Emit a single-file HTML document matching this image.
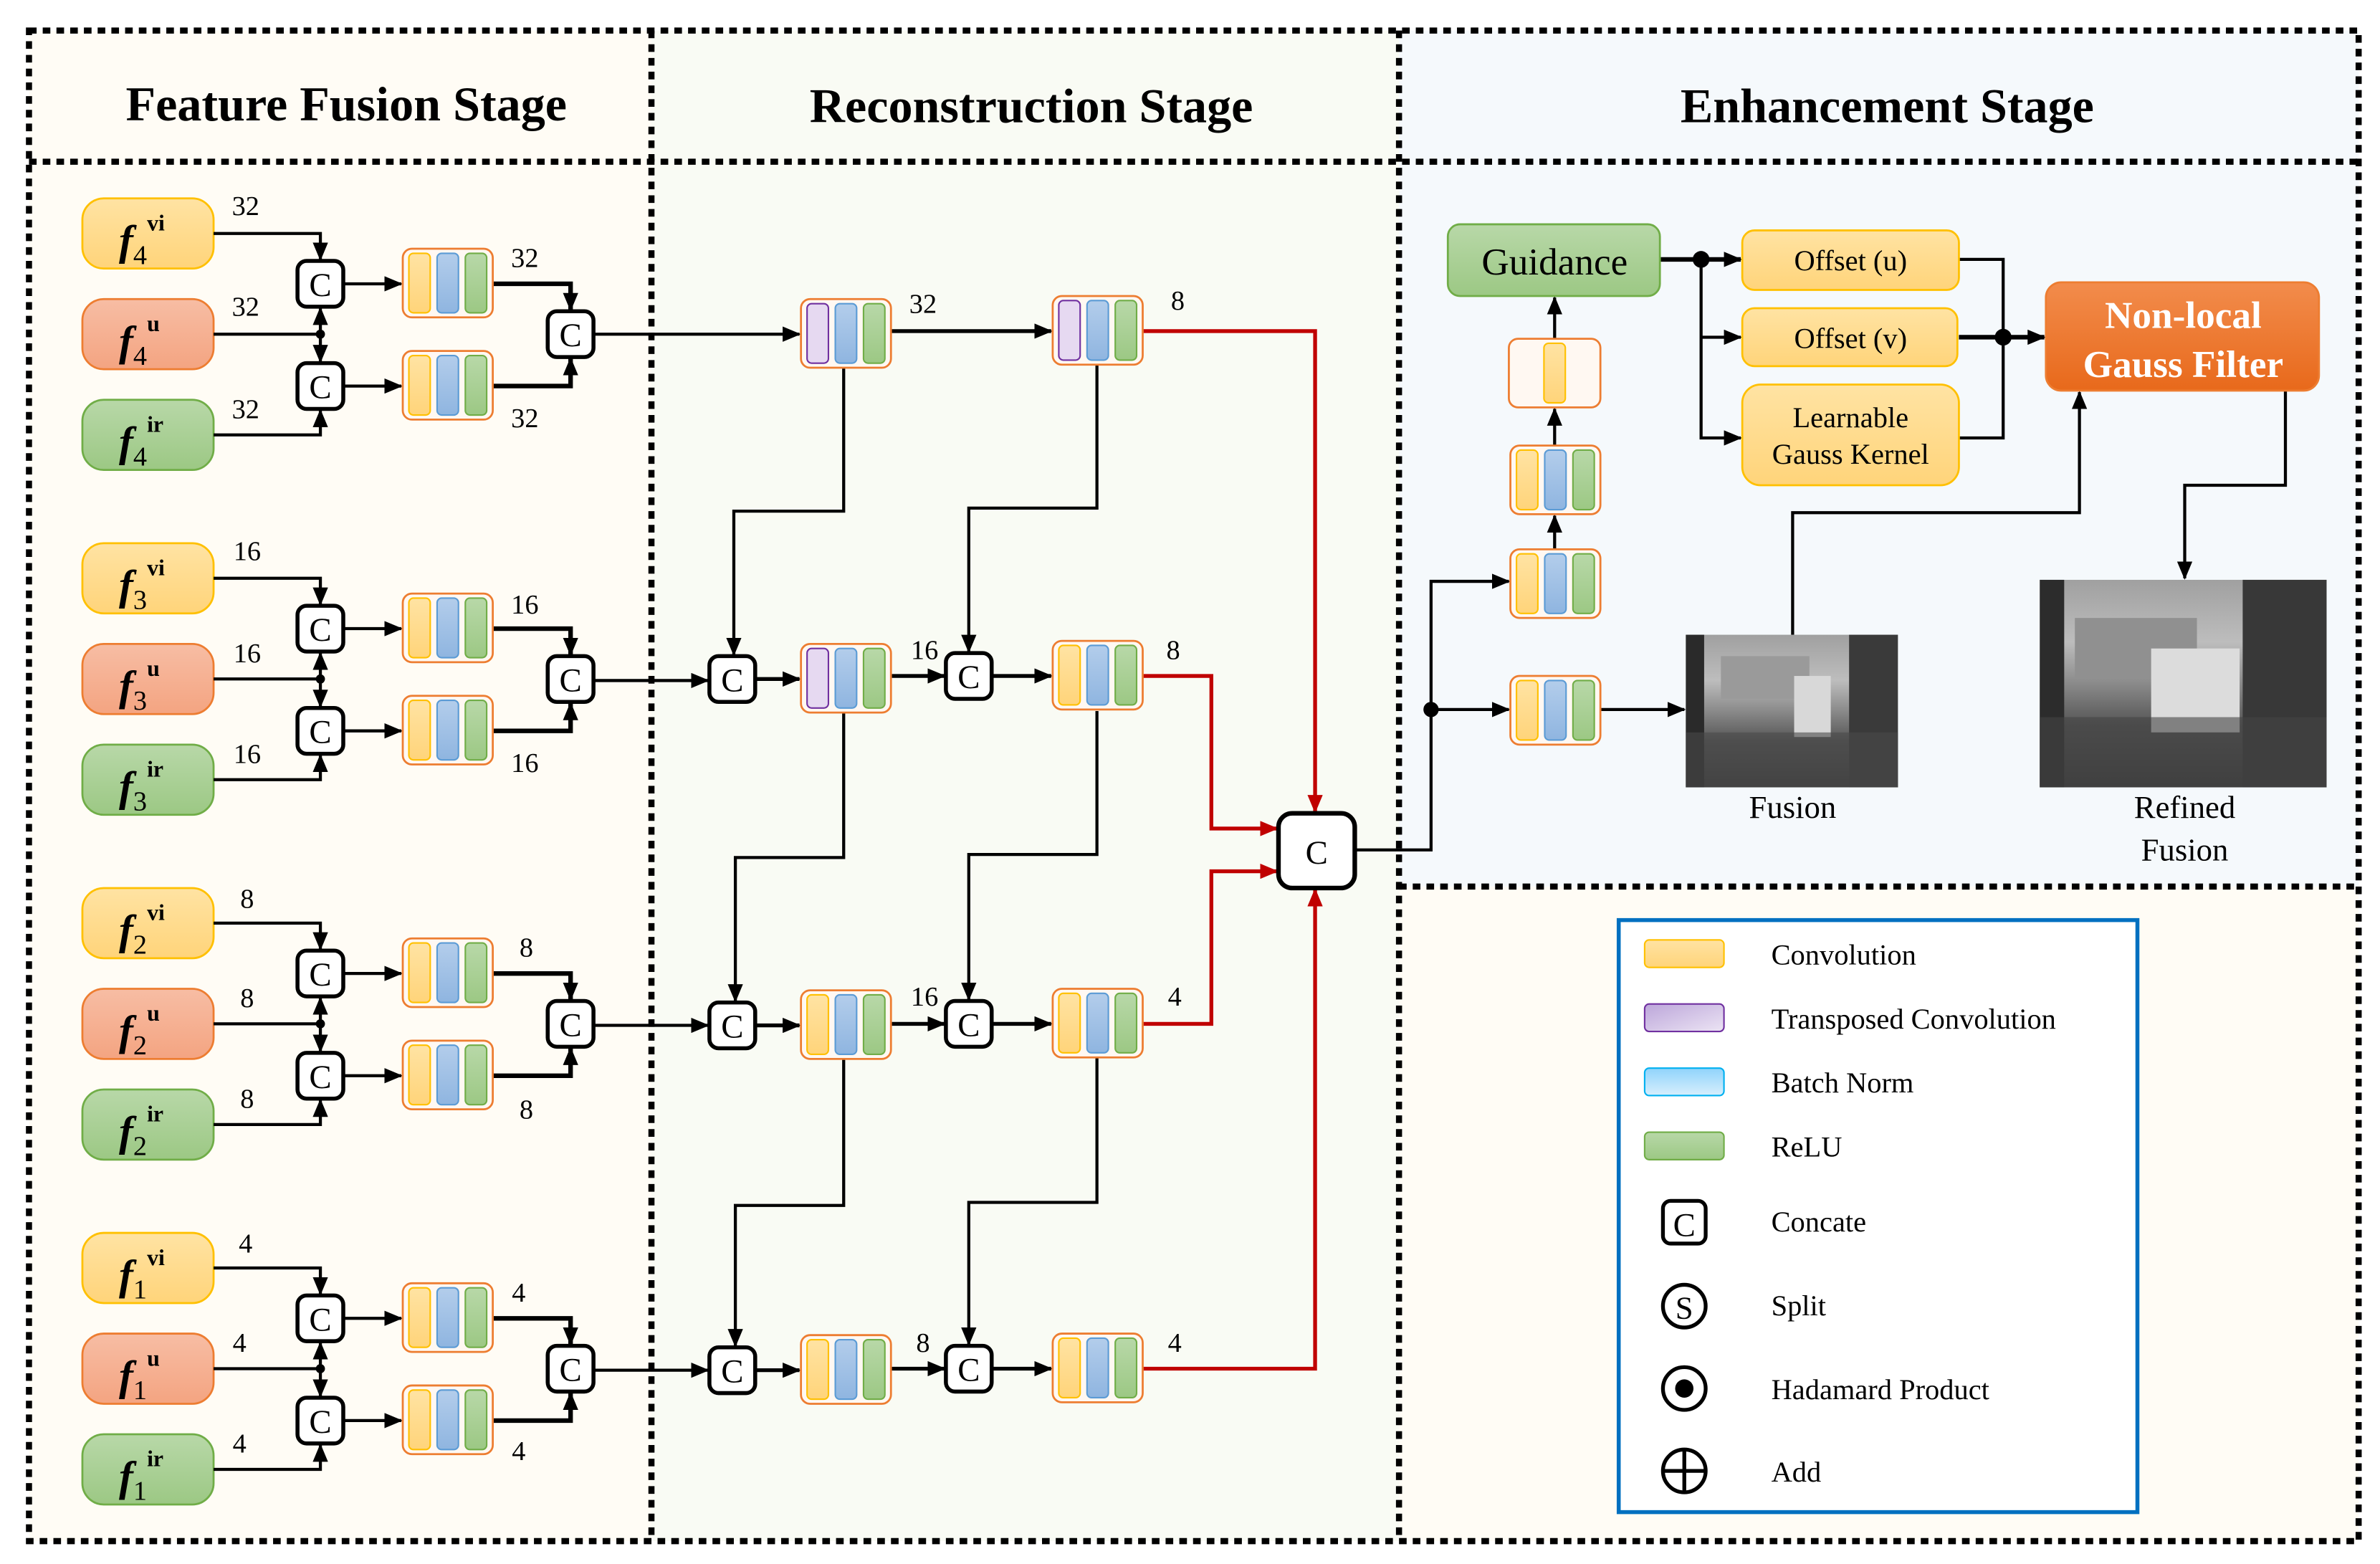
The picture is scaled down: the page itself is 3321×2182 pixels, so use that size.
<!DOCTYPE html>
<html><head><meta charset="utf-8"><style>
html,body{margin:0;padding:0;background:#fff}
svg{display:block}
svg, svg text{font-family:"Liberation Serif","DejaVu Serif","Times New Roman",serif !important}
</style></head><body>
<svg xmlns="http://www.w3.org/2000/svg" width="3321" height="2182" viewBox="0 0 1560 1025" preserveAspectRatio="none" font-family="Liberation Serif, DejaVu Serif, serif">
<defs>
<marker id="a" markerWidth="12" markerHeight="10" refX="11" refY="5" orient="auto" markerUnits="userSpaceOnUse"><path d="M0,0 L12,5 L0,10 z" fill="#000"/></marker>
<marker id="r" markerWidth="12" markerHeight="10" refX="11" refY="5" orient="auto" markerUnits="userSpaceOnUse"><path d="M0,0 L12,5 L0,10 z" fill="#c00000"/></marker>
<linearGradient id="gy" x1="0" y1="0" x2="0" y2="1"><stop offset="0" stop-color="#ffe3a3"/><stop offset="1" stop-color="#ffd47a"/></linearGradient>
<linearGradient id="gb" x1="0" y1="0" x2="0" y2="1"><stop offset="0" stop-color="#b3cdeb"/><stop offset="1" stop-color="#8fb5e0"/></linearGradient>
<linearGradient id="gg" x1="0" y1="0" x2="0" y2="1"><stop offset="0" stop-color="#b8d8a8"/><stop offset="1" stop-color="#9cc884"/></linearGradient>
<linearGradient id="gr" x1="0" y1="0" x2="0" y2="1"><stop offset="0" stop-color="#f7bda4"/><stop offset="1" stop-color="#f4a481"/></linearGradient>
<linearGradient id="go" x1="0" y1="0" x2="0" y2="1"><stop offset="0" stop-color="#f28c4c"/><stop offset="1" stop-color="#e8691b"/></linearGradient>
<linearGradient id="gp" x1="0" y1="0" x2="1" y2="1"><stop offset="0" stop-color="#bca6da"/><stop offset="1" stop-color="#ece4f4"/></linearGradient>
<linearGradient id="gbn" x1="0" y1="0" x2="0" y2="1"><stop offset="0" stop-color="#8fd3fb"/><stop offset="1" stop-color="#d8effd"/></linearGradient>
<linearGradient id="img" x1="0" y1="0" x2="0" y2="1"><stop offset="0" stop-color="#a0a0a0"/><stop offset="0.3" stop-color="#bdbdbd"/><stop offset="0.5" stop-color="#8a8a8a"/><stop offset="0.7" stop-color="#555"/><stop offset="1" stop-color="#3a3a3a"/></linearGradient>
<g id="bY"><rect x="0" y="0" width="59" height="45" rx="6" fill="#fff8f2" stroke="#ed7d31" stroke-width="1.3"/><rect x="4" y="3" width="14" height="39" rx="3" fill="url(#gy)" stroke="#ffc000"/><rect x="22.5" y="3" width="14" height="39" rx="3" fill="url(#gb)" stroke="#5b9bd5"/><rect x="41" y="3" width="14" height="39" rx="3" fill="url(#gg)" stroke="#70ad47"/></g>
<g id="bP"><rect x="0" y="0" width="59" height="45" rx="6" fill="#fff8f2" stroke="#ed7d31" stroke-width="1.3"/><rect x="4" y="3" width="14" height="39" rx="3" fill="#e6d9f1" stroke="#7030a0"/><rect x="22.5" y="3" width="14" height="39" rx="3" fill="url(#gb)" stroke="#5b9bd5"/><rect x="41" y="3" width="14" height="39" rx="3" fill="url(#gg)" stroke="#70ad47"/></g>
<g id="cc"><rect x="-15" y="-15" width="30" height="30" rx="6" fill="#fff" stroke="#000" stroke-width="2.6"/></g>
</defs>

<rect x="0" y="0" width="1560" height="1025" fill="#fff"/>
<rect x="19" y="20" width="408" height="990" fill="#fffcf5"/>
<rect x="427" y="20" width="490" height="990" fill="#f9fbf4"/>
<rect x="917" y="20" width="629" height="561" fill="#f5f9fc"/>
<rect x="917" y="581" width="629" height="429" fill="#fffcf5"/>

<g fill="none" stroke="#000" stroke-width="4" stroke-dasharray="5,4">
<rect x="19" y="20" width="1527" height="990"/>
<line x1="19" y1="106" x2="1546" y2="106"/>
<line x1="427" y1="20" x2="427" y2="1010"/>
<line x1="917" y1="20" x2="917" y2="1010"/>
<line x1="917" y1="581" x2="1546" y2="581"/>
</g>

<g font-weight="bold" font-size="32" text-anchor="middle">
<text x="227" y="79">Feature Fusion Stage</text>
<text x="676" y="80">Reconstruction Stage</text>
<text x="1237" y="80">Enhancement Stage</text>
</g>

<g id="grp4">
<rect x="54" y="130" width="86" height="46" rx="14" fill="url(#gy)" stroke="#ffc000" stroke-width="1.3"/>
<rect x="54" y="196" width="86" height="46" rx="14" fill="url(#gr)" stroke="#ed7d31" stroke-width="1.3"/>
<rect x="54" y="262" width="86" height="46" rx="14" fill="url(#gg)" stroke="#70ad47" stroke-width="1.3"/>
<g fill="none" stroke="#000" stroke-width="2">
<path d="M140 153 H210 V170" marker-end="url(#a)"/>
<path d="M140 285 H210 V269" marker-end="url(#a)"/>
<path d="M140 219 H210"/>
<path d="M210 219 V202" marker-end="url(#a)"/>
<path d="M210 219 V237" marker-end="url(#a)"/>
<path d="M225 186 H263" marker-end="url(#a)"/>
<path d="M225 253 H263" marker-end="url(#a)"/>
<path d="M323 186 H374 V203" stroke-width="3" marker-end="url(#a)"/>
<path d="M323 253 H374 V235" stroke-width="3" marker-end="url(#a)"/>
</g>
<circle cx="210" cy="219" r="3" fill="#000"/>
<use href="#cc" x="210" y="186"/><use href="#cc" x="210" y="253"/><use href="#cc" x="374" y="219"/>
<g font-size="22" text-anchor="middle"><text x="210" y="194">C</text><text x="210" y="261">C</text><text x="374" y="227">C</text></g>
<use href="#bY" x="264" y="163"/><use href="#bY" x="264" y="230"/>
</g>

<g transform="translate(0,226)"><use href="#grp4"/></g>
<g transform="translate(0,452)"><use href="#grp4"/></g>
<g transform="translate(0,678)"><use href="#grp4"/></g>

<g font-size="28" font-weight="bold">
<text x="78" y="167"><tspan font-style="italic">f</tspan><tspan font-size="18" font-weight="normal" dy="6">4</tspan><tspan font-size="15" dy="-22">vi</tspan></text>
<text x="78" y="233"><tspan font-style="italic">f</tspan><tspan font-size="18" font-weight="normal" dy="6">4</tspan><tspan font-size="15" dy="-22">u</tspan></text>
<text x="78" y="299"><tspan font-style="italic">f</tspan><tspan font-size="18" font-weight="normal" dy="6">4</tspan><tspan font-size="15" dy="-22">ir</tspan></text>
<text x="78" y="393"><tspan font-style="italic">f</tspan><tspan font-size="18" font-weight="normal" dy="6">3</tspan><tspan font-size="15" dy="-22">vi</tspan></text>
<text x="78" y="459"><tspan font-style="italic">f</tspan><tspan font-size="18" font-weight="normal" dy="6">3</tspan><tspan font-size="15" dy="-22">u</tspan></text>
<text x="78" y="525"><tspan font-style="italic">f</tspan><tspan font-size="18" font-weight="normal" dy="6">3</tspan><tspan font-size="15" dy="-22">ir</tspan></text>
<text x="78" y="619"><tspan font-style="italic">f</tspan><tspan font-size="18" font-weight="normal" dy="6">2</tspan><tspan font-size="15" dy="-22">vi</tspan></text>
<text x="78" y="685"><tspan font-style="italic">f</tspan><tspan font-size="18" font-weight="normal" dy="6">2</tspan><tspan font-size="15" dy="-22">u</tspan></text>
<text x="78" y="751"><tspan font-style="italic">f</tspan><tspan font-size="18" font-weight="normal" dy="6">2</tspan><tspan font-size="15" dy="-22">ir</tspan></text>
<text x="78" y="845"><tspan font-style="italic">f</tspan><tspan font-size="18" font-weight="normal" dy="6">1</tspan><tspan font-size="15" dy="-22">vi</tspan></text>
<text x="78" y="911"><tspan font-style="italic">f</tspan><tspan font-size="18" font-weight="normal" dy="6">1</tspan><tspan font-size="15" dy="-22">u</tspan></text>
<text x="78" y="977"><tspan font-style="italic">f</tspan><tspan font-size="18" font-weight="normal" dy="6">1</tspan><tspan font-size="15" dy="-22">ir</tspan></text>
</g>

<g font-size="18" text-anchor="middle">
<text x="161" y="141">32</text><text x="161" y="207">32</text><text x="161" y="274">32</text><text x="344" y="175">32</text><text x="344" y="280">32</text>
<text x="162" y="367">16</text><text x="162" y="434">16</text><text x="162" y="500">16</text><text x="344" y="402">16</text><text x="344" y="506">16</text>
<text x="162" y="595">8</text><text x="162" y="660">8</text><text x="162" y="726">8</text><text x="345" y="627">8</text><text x="345" y="733">8</text>
<text x="161" y="821">4</text><text x="157" y="886">4</text><text x="157" y="952">4</text><text x="340" y="853">4</text><text x="340" y="957">4</text>
<text x="605" y="205">32</text><text x="772" y="203">8</text>
<text x="606" y="432">16</text><text x="769" y="432">8</text>
<text x="606" y="659">16</text><text x="770" y="659">4</text>
<text x="605" y="886">8</text><text x="770" y="886">4</text>
</g>

<g fill="none" stroke="#000" stroke-width="2">
<path d="M389 219 H524" marker-end="url(#a)"/>
<path d="M583 217 H689" stroke-width="2.5" marker-end="url(#a)"/>
<path d="M389 446 H464" marker-end="url(#a)"/>
<path d="M495 445 H524" stroke-width="2.5" marker-end="url(#a)"/>
<path d="M583 443 H619" stroke-width="2.5" marker-end="url(#a)"/>
<path d="M650 443 H689" stroke-width="2.5" marker-end="url(#a)"/>
<path d="M389 672 H464" marker-end="url(#a)"/>
<path d="M495 672 H524" stroke-width="2.5" marker-end="url(#a)"/>
<path d="M583 671 H619" stroke-width="2.5" marker-end="url(#a)"/>
<path d="M650 671 H689" stroke-width="2.5" marker-end="url(#a)"/>
<path d="M389 898 H464" marker-end="url(#a)"/>
<path d="M495 898 H524" stroke-width="2.5" marker-end="url(#a)"/>
<path d="M583 897 H619" stroke-width="2.5" marker-end="url(#a)"/>
<path d="M650 897 H689" stroke-width="2.5" marker-end="url(#a)"/>
<path d="M553 241 V335 H481 V429" marker-end="url(#a)"/>
<path d="M719 238 V333 H635 V427" marker-end="url(#a)"/>
<path d="M553 466 V562 H482 V656" marker-end="url(#a)"/>
<path d="M719 466 V560 H635 V655" marker-end="url(#a)"/>
<path d="M553 693 V790 H482 V882" marker-end="url(#a)"/>
<path d="M719 693 V788 H635 V881" marker-end="url(#a)"/>
</g>
<g fill="none" stroke="#c00000" stroke-width="2.5">
<path d="M748 217 H862 V532" marker-end="url(#r)"/>
<path d="M748 443 H794 V543 H837" marker-end="url(#r)"/>
<path d="M748 671 H794 V571 H837" marker-end="url(#r)"/>
<path d="M748 897 H862 V583" marker-end="url(#r)"/>
</g>
<use href="#bP" x="525" y="196"/><use href="#bP" x="690" y="194"/>
<use href="#bP" x="525" y="422"/><use href="#bY" x="690" y="420"/>
<use href="#bY" x="525" y="649"/><use href="#bY" x="690" y="648"/>
<use href="#bY" x="525" y="875"/><use href="#bY" x="690" y="874"/>
<use href="#cc" x="480" y="445"/><use href="#cc" x="635" y="443"/>
<use href="#cc" x="480" y="672"/><use href="#cc" x="635" y="671"/>
<use href="#cc" x="480" y="898"/><use href="#cc" x="635" y="897"/>
<g font-size="22" text-anchor="middle">
<text x="480" y="453">C</text><text x="635" y="451">C</text>
<text x="480" y="680">C</text><text x="635" y="679">C</text>
<text x="480" y="906">C</text><text x="635" y="905">C</text>
</g>
<rect x="838" y="533" width="50" height="49" rx="9" fill="#fff" stroke="#000" stroke-width="3"/>
<text x="863" y="566" font-size="22" text-anchor="middle">C</text>

<g fill="none" stroke="#000" stroke-width="2">
<path d="M888 557 H938 V381 H989" marker-end="url(#a)"/>
<path d="M938 465 H989" marker-end="url(#a)"/>
<path d="M1049 465 H1104" marker-end="url(#a)"/>
<path d="M1019 360 V338" marker-end="url(#a)"/>
<path d="M1019 292 V268" marker-end="url(#a)"/>
<path d="M1019 222 V195" marker-end="url(#a)"/>
<path d="M1088 170 H1141" stroke-width="3" marker-end="url(#a)"/>
<path d="M1115 170 V287 H1141" marker-end="url(#a)"/>
<path d="M1115 221 H1141" marker-end="url(#a)"/>
<path d="M1284 170 H1313 V287 H1284"/>
<path d="M1284 221 H1340" stroke-width="3" marker-end="url(#a)"/>
<path d="M1175 416 V336 H1363 V257" marker-end="url(#a)"/>
<path d="M1498 256 V318 H1432 V379" marker-end="url(#a)"/>
</g>
<circle cx="938" cy="465" r="5" fill="#000"/>
<circle cx="1115" cy="170" r="5.5" fill="#000"/>
<circle cx="1313" cy="221" r="5.5" fill="#000"/>
<use href="#bY" x="990" y="360"/><use href="#bY" x="990" y="292"/><use href="#bY" x="990" y="443"/>
<rect x="989" y="222" width="60" height="45" rx="6" fill="#fff8f2" stroke="#ed7d31" stroke-width="1.3"/>
<rect x="1012" y="225" width="14" height="39" rx="3" fill="url(#gy)" stroke="#ffc000"/>
<rect x="949" y="147" width="139" height="47" rx="8" fill="url(#gg)" stroke="#70ad47" stroke-width="1.3"/>
<text x="1019" y="180" font-size="25" text-anchor="middle">Guidance</text>
<rect x="1142" y="151" width="142" height="39" rx="8" fill="url(#gy)" stroke="#ffc000" stroke-width="1.3"/>
<rect x="1142" y="202" width="141" height="38" rx="8" fill="url(#gy)" stroke="#ffc000" stroke-width="1.3"/>
<rect x="1142" y="252" width="142" height="66" rx="12" fill="url(#gy)" stroke="#ffc000" stroke-width="1.3"/>
<g font-size="19" text-anchor="middle">
<text x="1213" y="177">Offset (u)</text>
<text x="1213" y="228">Offset (v)</text>
<text x="1213" y="280">Learnable</text>
<text x="1213" y="304">Gauss Kernel</text>
</g>
<rect x="1341" y="185" width="179" height="71" rx="10" fill="url(#go)" stroke="#ed7d31" stroke-width="1.3"/>
<g font-size="25" font-weight="bold" text-anchor="middle">
<text x="1431" y="215" fill="#fff" style="fill:#fff">Non-local</text>
<text x="1431" y="247" fill="#fff" style="fill:#fff">Gauss Filter</text>
</g>
<!-- Fusion image -->
<rect x="1105" y="416" width="139" height="100" fill="url(#img)"/>
<rect x="1105" y="416" width="12" height="100" fill="#2a2a2a"/>
<rect x="1212" y="416" width="32" height="100" fill="#3a3a3a"/>
<rect x="1128" y="430" width="58" height="28" fill="#9a9a9a"/>
<rect x="1176" y="443" width="24" height="40" fill="#d8d8d8"/>
<rect x="1105" y="480" width="139" height="36" fill="#4a4a4a" opacity="0.6"/>
<!-- Refined image -->
<rect x="1337" y="380" width="188" height="136" fill="url(#img)"/>
<rect x="1337" y="380" width="16" height="136" fill="#2c2c2c"/>
<rect x="1470" y="380" width="55" height="136" fill="#383838"/>
<rect x="1360" y="405" width="80" height="40" fill="#909090"/>
<rect x="1410" y="425" width="58" height="55" fill="#dcdcdc"/>
<rect x="1337" y="470" width="188" height="46" fill="#454545" opacity="0.6"/>
<g font-size="21" text-anchor="middle">
<text x="1175" y="536">Fusion</text>
<text x="1432" y="536">Refined</text>
<text x="1432" y="564">Fusion</text>
</g>

<rect x="1061" y="603" width="340" height="388" fill="#fff" stroke="#0070c0" stroke-width="2.6"/>
<rect x="1078" y="616" width="52" height="18" rx="3" fill="url(#gy)" stroke="#ffc000"/>
<rect x="1078" y="658" width="52" height="18" rx="3" fill="url(#gp)" stroke="#7030a0"/>
<rect x="1078" y="700" width="52" height="18" rx="3" fill="url(#gbn)" stroke="#00b0f0"/>
<rect x="1078" y="742" width="52" height="18" rx="3" fill="url(#gg)" stroke="#70ad47"/>
<rect x="1090" y="787" width="28" height="28" rx="5" fill="#fff" stroke="#000" stroke-width="2.5"/>
<text x="1104" y="810" font-size="22" text-anchor="middle">C</text>
<circle cx="1104" cy="856" r="14" fill="#fff" stroke="#000" stroke-width="2.5"/>
<text x="1104" y="864" font-size="21" text-anchor="middle">S</text>
<circle cx="1104" cy="910" r="14" fill="#fff" stroke="#000" stroke-width="2.5"/>
<circle cx="1104" cy="910" r="6" fill="#000"/>
<circle cx="1104" cy="964" r="14" fill="#fff" stroke="#000" stroke-width="2.5"/>
<path d="M1090 964 H1118 M1104 950 V978" stroke="#000" stroke-width="2.5"/>
<g font-size="19">
<text x="1161" y="632">Convolution</text>
<text x="1161" y="674">Transposed Convolution</text>
<text x="1161" y="716">Batch Norm</text>
<text x="1161" y="758">ReLU</text>
<text x="1161" y="807">Concate</text>
<text x="1161" y="862">Split</text>
<text x="1161" y="917">Hadamard Product</text>
<text x="1161" y="971">Add</text>
</g>
</svg>
</body></html>
